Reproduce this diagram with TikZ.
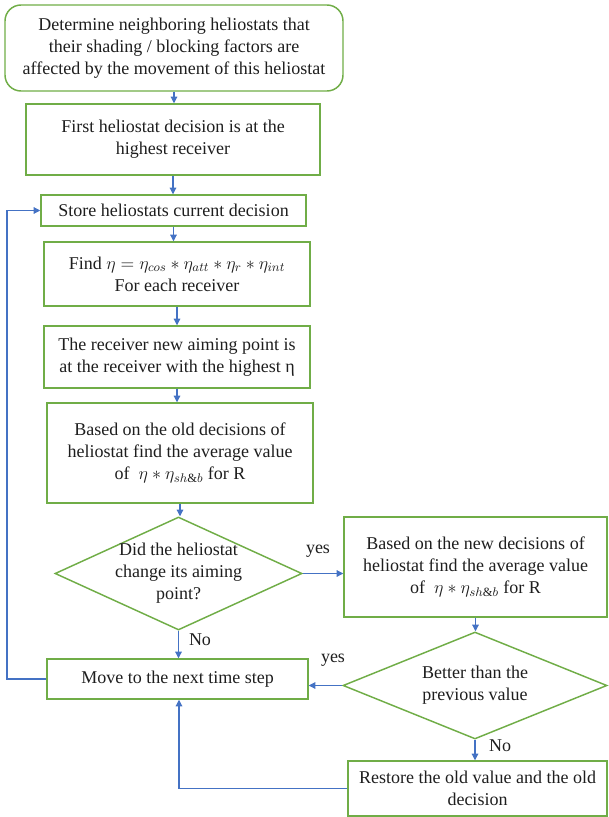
\RequirePackage{fix-cm}
\documentclass[tikz,border=0pt]{standalone}
\usepackage{fontspec}
\setmainfont{Liberation Serif}
\usetikzlibrary{shapes.geometric,arrows.meta}
\definecolor{boxgreen}{HTML}{70AD47}
\definecolor{arrowblue}{HTML}{4472C4}
\definecolor{txt}{HTML}{1E1E1E}
\begin{document}
\begin{tikzpicture}[x=0.75pt,y=-0.75pt,
  every node/.style={font=\fontsize{13.5}{16.5}\selectfont, text=txt},
  box/.style={draw=boxgreen, line width=1.1pt, align=center, inner sep=2pt},
  dia/.style={draw=boxgreen, line width=1.1pt, diamond, inner sep=0pt},
  conn/.style={draw=arrowblue, line width=0.8pt, -{Triangle[length=5pt,width=5pt]}},
  lab/.style={inner sep=0pt}]
\useasboundingbox (0,0) rectangle (608,817);

\node[box, rounded corners=12pt, minimum width=338*0.75pt, minimum height=86*0.75pt] (b1) at (174,48)
  {Determine neighboring heliostats that\\their shading / blocking factors are\\affected by the movement of this heliostat};
\node[box, minimum width=294*0.75pt, minimum height=71*0.75pt] (b2) at (173,139.5)
  {First heliostat decision is at the\\highest receiver};
\node[box, minimum width=265*0.75pt, minimum height=31*0.75pt] (b3) at (173.5,210.5)
  {Store heliostats current decision};
\node[box, minimum width=266*0.75pt, minimum height=64*0.75pt] (b4) at (177,274)
  {Find $\eta=\eta_{cos}*\eta_{att}*\eta_{r}*\eta_{int}$\\For each receiver};
\node[box, minimum width=266*0.75pt, minimum height=62*0.75pt] (b5) at (177,357)
  {The receiver new aiming point is\\at the receiver with the highest η};
\node[box, minimum width=266*0.75pt, minimum height=100*0.75pt] (b6) at (180,453)
  {Based on the old decisions of\\heliostat find the average value\\of \ $\eta*\eta_{sh\&b}$ for R};
\node[dia, minimum width=247*0.75pt, minimum height=113*0.75pt] (d1) at (178.5,573.5) {};
\node[align=center, inner sep=0pt] (d1t) at (d1) {Did the heliostat\\change its aiming\\point?};
\node[box, minimum width=263*0.75pt, minimum height=100*0.75pt] (b7) at (475.5,567)
  {Based on the new decisions of\\heliostat find the average value\\of \ $\eta*\eta_{sh\&b}$ for R};
\node[dia, minimum width=264*0.75pt, minimum height=107*0.75pt] (d2) at (475,685.5) {};
\node[align=center, inner sep=0pt] (d2t) at (d2) {Better than the\\previous value};
\node[box, minimum width=261*0.75pt, minimum height=40*0.75pt] (b8) at (177.5,679)
  {Move to the next time step};
\node[box, minimum width=259*0.75pt, minimum height=55*0.75pt] (b9) at (477.5,788.5)
  {Restore the old value and the old\\decision};

\draw[conn] (b1.south) -- (b1.south |- b2.north);
\draw[conn] (b2.south) -- (b2.south |- b3.north);
\draw[conn] (b3.south) -- (b3.south |- b4.north);
\draw[conn] (b4.south) -- (b4.south |- b5.north);
\draw[conn] (b5.south) -- (b5.south |- b6.north);
\draw[conn] (b6.south) -- (b6.south |- d1.north);
\draw[conn] (d1.east) -- (d1.east -| b7.west);
\draw[conn] (b7.south) -- (b7.south |- d2.north);
\draw[conn] (d1.south) -- (d1.south |- b8.north);
\draw[conn] (d2.west) -- (d2.west -| b8.east);
\draw[conn] (d2.south) -- (d2.south |- b9.north);
\coordinate (lp) at (7,0);
\draw[conn] (b8.west) -- (b8.west -| lp) |- (b3.west);
\coordinate (rp) at (179,0);
\draw[conn] (b9.west) -- (b9.west -| rp) -- (rp |- b8.south);

\node[lab] (y1) at (318,551) {yes};
\node[lab] (n1) at (200,640) {No};
\node[lab] (y2) at (333,660) {yes};
\node[lab] (n2) at (500,746) {No};
\end{tikzpicture}
\end{document}
